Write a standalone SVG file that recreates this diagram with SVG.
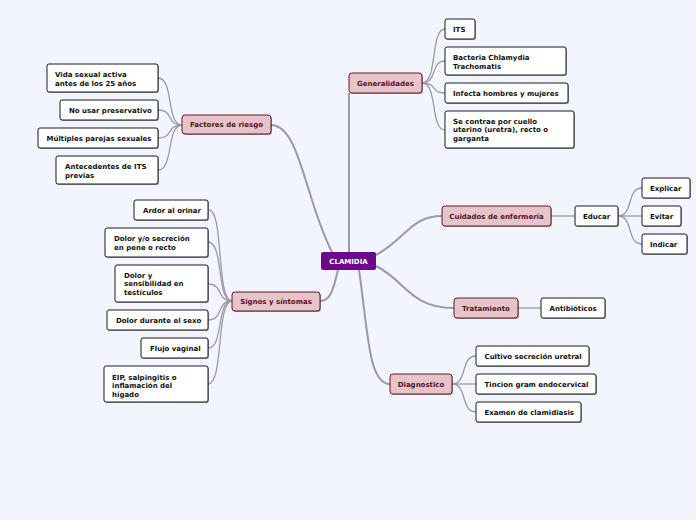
<svg xmlns="http://www.w3.org/2000/svg" width="696" height="520" viewBox="0 0 696 520">
<style>
text{font-family:"DejaVu Sans",Verdana,sans-serif;font-weight:bold;font-size:7px;fill:#111}
.c{fill:none;stroke:#9a9aa0;stroke-width:1.3}
.m{fill:none;stroke:#9a9aa0;stroke-width:2}
.sh{fill:#000;opacity:.35}
.w{fill:#fff;stroke:#1a1a1a;stroke-width:1}
.b{fill:#e6c5ca;stroke:#6b1525;stroke-width:1}
.bt{fill:#5a1020;text-anchor:middle}
.r{fill:#6a0a8a}
.rt{fill:#fff;text-anchor:middle}
</style>
<rect width="696" height="520" fill="#f2f5fe"/>
<g id="connectors">
<path class="m" d="M349,252 C349,200 349,140 349,93"/>
<path class="m" d="M271,125 C300,125 305,200 332,252"/>
<path class="m" d="M320,301 C332,301 334,285 338,270"/>
<path class="m" d="M376,255 C405,240 410,216 442,216"/>
<path class="m" d="M376,266 C405,280 410,308 454,308"/>
<path class="m" d="M359,270 C368,330 368,384 390,384"/>
<path class="c" d="M422,83 C438,83 430,29 445,29"/>
<path class="c" d="M422,83 C438,83 430,61 445,61"/>
<path class="c" d="M422,83 C438,83 430,93 445,93"/>
<path class="c" d="M422,83 C438,83 430,130 445,130"/>
<path class="c" d="M182,125 C166,125 174,78 158,78"/>
<path class="c" d="M182,125 C166,125 174,110 158,110"/>
<path class="c" d="M182,125 C166,125 174,138 158,138"/>
<path class="c" d="M182,125 C166,125 174,170 158,170"/>
<path class="c" d="M232,301 C216,301 224,210 209,210"/>
<path class="c" d="M232,301 C216,301 224,242 208,242"/>
<path class="c" d="M232,301 C216,301 224,284 208,284"/>
<path class="c" d="M232,301 C216,301 224,320 208,320"/>
<path class="c" d="M232,301 C216,301 224,348 208,348"/>
<path class="c" d="M232,301 C216,301 224,384 208,384"/>
<path class="c" d="M551,216 L575,216"/>
<path class="c" d="M618,216 C634,216 626,188 642,188"/>
<path class="c" d="M618,216 L642,216"/>
<path class="c" d="M618,216 C634,216 626,244 642,244"/>
<path class="c" d="M518,308 L541,308"/>
<path class="c" d="M452,384 C468,384 460,356 476,356"/>
<path class="c" d="M452,384 L476,384"/>
<path class="c" d="M452,384 C468,384 460,412 476,412"/>
</g>
<g id="clamidia"><rect x="321" y="252" width="55" height="18" rx="2" class="r"/><text class="rt" x="348.5" y="263.5">CLAMIDIA</text></g>
<g id="generalidades"><rect x="350" y="74" width="73" height="20" rx="3" class="sh"/><rect x="349" y="73" width="73" height="20" rx="3" class="b"/><text class="bt" x="385.5" y="85.5">Generalidades</text></g>
<g id="its"><rect x="446" y="20" width="30" height="20" rx="2" class="sh"/><rect x="445" y="19" width="30" height="20" rx="2" class="w"/><text x="453" y="31.5">ITS</text></g>
<g id="bacteria"><rect x="446" y="48" width="121" height="28" rx="2" class="sh"/><rect x="445" y="47" width="121" height="28" rx="2" class="w"/><text x="453" y="60">Bacteria Chlamydia</text><text x="453" y="68.5">Trachomatis</text></g>
<g id="infecta"><rect x="446" y="84" width="123" height="20" rx="2" class="sh"/><rect x="445" y="83" width="123" height="20" rx="2" class="w"/><text x="453" y="95.5">Infecta hombres y mujeres</text></g>
<g id="secontrae"><rect x="446" y="112" width="129" height="37" rx="2" class="sh"/><rect x="445" y="111" width="129" height="37" rx="2" class="w"/><text x="453" y="123.5">Se contrae por cuello</text><text x="453" y="132.2">uterino (uretra), recto o</text><text x="453" y="141">garganta</text></g>
<g id="factores"><rect x="183" y="116" width="89" height="19" rx="3" class="sh"/><rect x="182" y="115" width="89" height="19" rx="3" class="b"/><text class="bt" x="226.5" y="127">Factores de riesgo</text></g>
<g id="vida"><rect x="48" y="65" width="111" height="28" rx="2" class="sh"/><rect x="47" y="64" width="111" height="28" rx="2" class="w"/><text x="55" y="76.5">Vida sexual activa</text><text x="55" y="85.5">antes de los 25 años</text></g>
<g id="nousar"><rect x="61" y="101" width="98" height="20" rx="2" class="sh"/><rect x="60" y="100" width="98" height="20" rx="2" class="w"/><text x="69" y="112.5">No usar preservativo</text></g>
<g id="multiples"><rect x="39" y="129" width="120" height="20" rx="2" class="sh"/><rect x="38" y="128" width="120" height="20" rx="2" class="w"/><text x="46.5" y="140.5">Múltiples parejas sexuales</text></g>
<g id="antecedentes"><rect x="57" y="157" width="102" height="28" rx="2" class="sh"/><rect x="56" y="156" width="102" height="28" rx="2" class="w"/><text x="65" y="169">Antecedentes de ITS</text><text x="65" y="177.5">previas</text></g>
<g id="signos"><rect x="233" y="293" width="88" height="19" rx="3" class="sh"/><rect x="232" y="292" width="88" height="19" rx="3" class="b"/><text class="bt" x="276" y="304">Signos y síntomas</text></g>
<g id="ardor"><rect x="135" y="201" width="74" height="20" rx="2" class="sh"/><rect x="134" y="200" width="74" height="20" rx="2" class="w"/><text x="143" y="212.5">Ardor al orinar</text></g>
<g id="dolorsec"><rect x="106" y="229" width="103" height="29" rx="2" class="sh"/><rect x="105" y="228" width="103" height="29" rx="2" class="w"/><text x="114" y="241">Dolor y/o secreción</text><text x="114" y="250">en pene o recto</text></g>
<g id="dolorsens"><rect x="116" y="266" width="93" height="37" rx="2" class="sh"/><rect x="115" y="265" width="93" height="37" rx="2" class="w"/><text x="124" y="277.5">Dolor y</text><text x="124" y="286.2">sensibilidad en</text><text x="124" y="295">testículos</text></g>
<g id="dolorsexo"><rect x="108" y="311" width="101" height="20" rx="2" class="sh"/><rect x="107" y="310" width="101" height="20" rx="2" class="w"/><text x="116" y="322.5">Dolor durante el sexo</text></g>
<g id="flujo"><rect x="142" y="339" width="67" height="20" rx="2" class="sh"/><rect x="141" y="338" width="67" height="20" rx="2" class="w"/><text x="150" y="350.5">Flujo vaginal</text></g>
<g id="eip"><rect x="105" y="367" width="104" height="36" rx="2" class="sh"/><rect x="104" y="366" width="104" height="36" rx="2" class="w"/><text x="112" y="379.5">EIP, salpingitis o</text><text x="112" y="388">inflamación del</text><text x="112" y="396.5">hígado</text></g>
<g id="cuidados"><rect x="443" y="207" width="109" height="20" rx="3" class="sh"/><rect x="442" y="206" width="109" height="20" rx="3" class="b"/><text class="bt" x="496.5" y="218.5">Cuidados de enfermería</text></g>
<g id="educar"><rect x="576" y="207" width="43" height="20" rx="2" class="sh"/><rect x="575" y="206" width="43" height="20" rx="2" class="w"/><text x="583" y="218.5">Educar</text></g>
<g id="explicar"><rect x="643" y="179" width="48" height="20" rx="2" class="sh"/><rect x="642" y="178" width="48" height="20" rx="2" class="w"/><text x="650" y="190.5">Explicar</text></g>
<g id="evitar"><rect x="643" y="207" width="39" height="20" rx="2" class="sh"/><rect x="642" y="206" width="39" height="20" rx="2" class="w"/><text x="650" y="218.5">Evitar</text></g>
<g id="indicar"><rect x="643" y="235" width="45" height="20" rx="2" class="sh"/><rect x="642" y="234" width="45" height="20" rx="2" class="w"/><text x="650" y="246.5">Indicar</text></g>
<g id="tratamiento"><rect x="455" y="299" width="64" height="20" rx="3" class="sh"/><rect x="454" y="298" width="64" height="20" rx="3" class="b"/><text class="bt" x="486" y="310.5">Tratamiento</text></g>
<g id="antibioticos"><rect x="542" y="299" width="64" height="20" rx="2" class="sh"/><rect x="541" y="298" width="64" height="20" rx="2" class="w"/><text x="549.5" y="310.5">Antibióticos</text></g>
<g id="diagnostico"><rect x="391" y="375" width="62" height="20" rx="3" class="sh"/><rect x="390" y="374" width="62" height="20" rx="3" class="b"/><text class="bt" x="421" y="386.5">Diagnostico</text></g>
<g id="cultivo"><rect x="477" y="347" width="113" height="20" rx="2" class="sh"/><rect x="476" y="346" width="113" height="20" rx="2" class="w"/><text x="484.5" y="358.5">Cultivo secreción uretral</text></g>
<g id="tincion"><rect x="477" y="375" width="120" height="20" rx="2" class="sh"/><rect x="476" y="374" width="120" height="20" rx="2" class="w"/><text x="484.5" y="386.5">Tincion gram endocervical</text></g>
<g id="examen"><rect x="477" y="403" width="105" height="20" rx="2" class="sh"/><rect x="476" y="402" width="105" height="20" rx="2" class="w"/><text x="484.5" y="414.5">Examen de clamidiasis</text></g>
</svg>
